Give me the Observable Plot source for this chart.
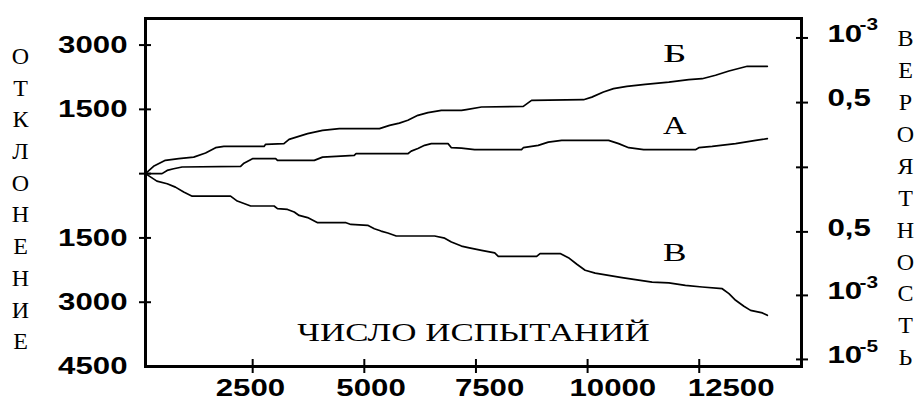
<!DOCTYPE html>
<html><head><meta charset="utf-8">
<script src="https://cdn.jsdelivr.net/npm/d3@7"></script>
<script src="https://cdn.jsdelivr.net/npm/@observablehq/plot@0.6"></script>
<style>body{margin:0;background:#fff}</style>
</head><body><div id="chart"></div>
<script>
// Curve Б (upper)
const trialsB1 = [100,280,545,845,1180,1445,1670,1855,2755,2790,3200,3315,3730,4065,4440,5340,5565,5785,5975,6200,6425,6725,7175,7285,7625,8560,8745,9910,10095,10355,10580,10880,11290,11820,12265,12565,12865,13165,13575,14025];
const devB1    = [0,170,310,350,385,480,605,635,635,685,700,800,935,1010,1050,1050,1125,1180,1245,1360,1425,1475,1475,1495,1555,1570,1710,1725,1785,1905,1985,2035,2085,2135,2195,2215,2295,2395,2505,2505];
// Curve А (middle)
const trialsA = [100,470,585,730,920,2230,2305,2495,3015,3055,3880,4065,4775,4815,5975,6050,6200,6350,6500,6875,6950,7175,7470,8520,8560,8895,9120,9420,10470,10695,10920,11255,12415,12490,12790,13315,13765,14025];
const devA    = [0,0,75,115,155,170,245,350,350,310,310,385,425,465,465,525,585,660,700,700,605,595,560,560,605,660,735,775,775,700,605,560,560,605,635,700,775,815];
// Curve В (lower)
const trialsV = [100,355,585,770,955,1145,2005,2155,2380,2455,2980,3055,3280,3430,3540,3730,3955,4590,4700,5075,5225,5375,5525,5715,6575,6800,6950,7175,7325,7625,7920,8000,8860,8935,9385,9570,9760,9945,10170,10470,10770,11070,11445,11820,12190,12565,13015,13165,13315,13500,13650,13915,14025];
const devV    = [0,-175,-235,-315,-430,-525,-525,-640,-725,-755,-755,-815,-835,-895,-975,-1025,-1145,-1145,-1185,-1205,-1285,-1340,-1385,-1455,-1455,-1505,-1595,-1690,-1725,-1790,-1850,-1930,-1930,-1865,-1865,-1960,-2115,-2255,-2320,-2375,-2425,-2475,-2530,-2550,-2605,-2645,-2685,-2800,-2955,-3095,-3190,-3250,-3305];

const curveNames = ["Б","А","В"];
const curveLabelT = [11950, 11950, 11950];
const curveLabelV = [2810, 1130, -1835];

const xTicks = [2500, 5000, 7500, 10000, 12500];
const xTickLabels = ["2500","5000","7500","10000","12500"];
const xLabelAt = [2450, 5150, 7805, 10565, 13215];

const yTicks = [3000, 1500, 0, -1500, -3000];
const yTickLabels = ["3000","1500","1500","3000","4500"];
const yLabelAt = [3000, 1500, -1500, -3000, -4500];

const rightTicks = [3166, 1658, 147, -1359, -2841, -4335];
const rightBase = ["10","0,5","","0,5","10","10"];
const rightExp  = ["-3","","","","-3","-5"];

const xTitle = "ЧИСЛО ИСПЫТАНИЙ";
const leftTitle = "ОТКЛОНЕНИЕ";
const rightTitle = "ВЕРОЯТНОСТЬ";

const rows = [];
trialsB1.forEach((t,i)=>rows.push({s:"Б", t, v:devB1[i]}));
trialsA.forEach((t,i)=>rows.push({s:"А", t, v:devA[i]}));
trialsV.forEach((t,i)=>rows.push({s:"В", t, v:devV[i]}));

const SANS = "Liberation Sans";
const SERIF = "Liberation Serif";
const COL  = "Liberation Serif, serif";

const svg = Plot.plot({
  width: 924, height: 410,
  marginLeft: 145, marginRight: 123, marginTop: 18, marginBottom: 44,
  style: {background: "#fff", color: "#000", overflow: "visible"},
  x: {domain: [100, 14790]},
  y: {domain: [-4500, 3620]},
  marks: [
    Plot.line(rows, {x: "t", y: "v", z: "s", stroke: "#000", strokeWidth: 1.7}),
    Plot.axisX({ticks: xTicks, tickSize: 14, dy: -7, tickFormat: () => "", strokeWidth: 2, label: null}),
    Plot.axisY({ticks: yTicks, tickSize: 12, dx: 6, tickFormat: () => "", strokeWidth: 2, label: null}),
    Plot.axisY({anchor: "right", ticks: rightTicks, tickSize: 12, dx: -6, tickFormat: () => "", strokeWidth: 2, label: null}),
    Plot.frame({stroke: "#000", strokeWidth: 3}),
    Plot.text(yTickLabels, {frameAnchor: "left", y: yLabelAt, text: d => d, textAnchor: "end", dx: -18, fontFamily: SANS, fontWeight: "bold", fontSize: 24}),
    Plot.text(xTickLabels, {frameAnchor: "bottom", x: xLabelAt, text: d => d, lineAnchor: "middle", dy: 22, fontFamily: SANS, fontWeight: "bold", fontSize: 24}),
    Plot.text(rightBase, {frameAnchor: "right", y: rightTicks, text: d => d, textAnchor: "start", dx: 26, dy: -4, fontFamily: SANS, fontWeight: "bold", fontSize: 24}),
    Plot.text(rightExp, {frameAnchor: "right", y: rightTicks, text: d => d, textAnchor: "start", dx: 58, dy: -13, fontFamily: SANS, fontWeight: "bold", fontSize: 16}),
    Plot.text(curveNames, {x: curveLabelT, y: curveLabelV, text: d => d, fontFamily: SERIF, fontSize: 26}),
    Plot.text([xTitle], {frameAnchor: "bottom", text: d => d, lineAnchor: "middle", dy: -34, fontFamily: SERIF, fontSize: 25}),
    Plot.text([leftTitle.split("").join("\n")], {frameAnchor: "left", text: d => d, lineAnchor: "middle", textAnchor: "middle", dx: -125, dy: 4, lineHeight: 1.32, fontFamily: COL, fontSize: 24}),
    Plot.text([rightTitle.split("").join("\n")], {frameAnchor: "right", text: d => d, lineAnchor: "middle", textAnchor: "middle", dx: 104, dy: 3, lineHeight: 1.33, fontFamily: COL, fontSize: 24})
  ]
});
document.getElementById("chart").append(svg);

// horizontal stretch of the wide DOS-style lettering
svg.querySelectorAll("text").forEach(t => {
  const g = t.closest("g[font-family]");
  if (!g) return;
  const ff = g.getAttribute("font-family");
  if (ff === COL) return;
  if (!t.textContent) return;
  let target = 0;
  if (ff === SANS) target = t.getComputedTextLength() * 1.3;
  else if (ff === SERIF) target = t.textContent.length * 23.5;
  if (!target) return;
  t.setAttribute("textLength", target.toFixed(1));
  t.setAttribute("lengthAdjust", "spacingAndGlyphs");
});
</script>
</body></html>
